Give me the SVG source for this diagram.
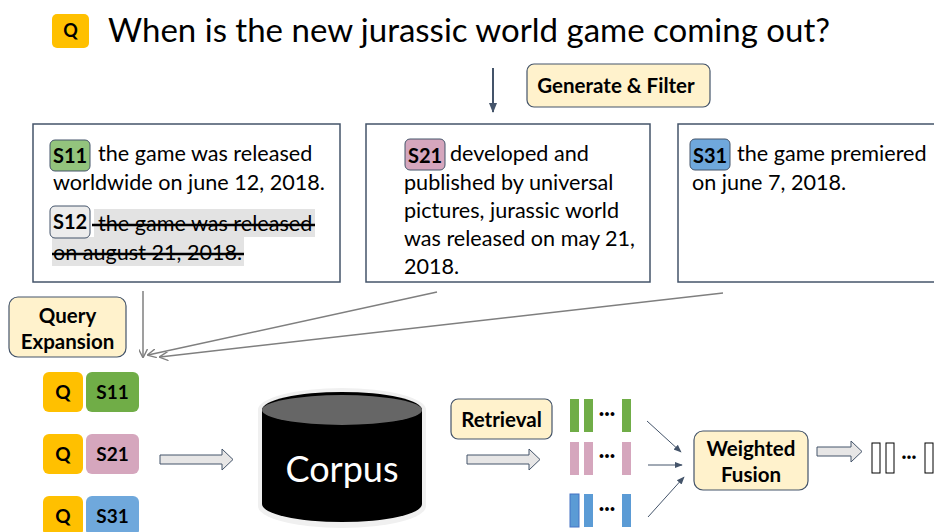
<svg xmlns="http://www.w3.org/2000/svg" width="934" height="532" viewBox="0 0 934 532">
<defs>
<style>
text{font-family:Lato,"Open Sans","Liberation Sans",sans-serif;fill:#000}
.t{font-size:21.6px}
.b{font-weight:bold}
.lb{font-weight:bold;font-size:20.5px}
.box{fill:#fff;stroke:#44546a;stroke-width:1.5}
.lab{fill:#fff2cc;stroke:#44546a;stroke-width:1.2}
.badge{stroke:#44546a;stroke-width:1}
.conn{stroke:#7f7f7f;stroke-width:1.5;fill:none}
.thin{stroke:#44546a;stroke-width:1;fill:none}
.barr{fill:#e7e6e6;stroke:#44546a;stroke-width:1}
</style>
<marker id="ag" viewBox="0 0 10 10" refX="9" refY="5" markerWidth="9" markerHeight="9" markerUnits="userSpaceOnUse" orient="auto"><path d="M0,0 L10,5 L0,10" fill="none" stroke="#7f7f7f" stroke-width="1.5"/></marker>
<marker id="ad" viewBox="0 0 10 10" refX="9" refY="5" markerWidth="10" markerHeight="10" markerUnits="userSpaceOnUse" orient="auto"><path d="M0,1 L10,5 L0,9 z" fill="#44546a"/></marker>
<marker id="at" viewBox="0 0 10 10" refX="9" refY="5" markerWidth="8" markerHeight="8" markerUnits="userSpaceOnUse" orient="auto"><path d="M0,1 L10,5 L0,9 z" fill="#44546a"/></marker>
</defs>
<rect width="934" height="532" fill="#fff"/>

<g id="question">
<rect x="52" y="14" width="37" height="34" rx="5" fill="#ffc000"/>
<text x="70.5" y="37" text-anchor="middle" class="b" font-size="18">Q</text>
<text x="108" y="42" font-size="33">When is the new jurassic world game coming out?</text>
</g>

<g id="generate-filter">
<rect x="527" y="64" width="183" height="43" rx="7" class="lab"/>
<text x="616" y="93" text-anchor="middle" class="lb">Generate &amp; Filter</text>
</g>

<g id="box1">
<rect x="33" y="124" width="307" height="158" class="box"/>
<rect x="50" y="140" width="40" height="31" rx="5" fill="#93c47d" class="badge"/>
<text x="70" y="163" text-anchor="middle" class="b" font-size="20">S11</text>
<text x="98" y="161" class="t">the game was released</text>
<text x="53" y="190" class="t">worldwide on june 12, 2018.</text>
<rect x="94" y="209" width="221" height="28" fill="#e3e3e3"/>
<rect x="52" y="237" width="192" height="29" fill="#e3e3e3"/>
<rect x="50" y="206" width="40" height="32" rx="5" fill="#ececec" class="badge"/>
<text x="70" y="229" text-anchor="middle" class="b" font-size="20">S12</text>
<text x="98" y="231" class="t">the game was released</text>
<text x="53" y="260" class="t">on august 21, 2018.</text>
<line x1="92" y1="225" x2="315" y2="225" stroke="#000" stroke-width="2.5"/>
<line x1="52" y1="254" x2="244" y2="254" stroke="#000" stroke-width="2.5"/>
</g>

<g id="box2">
<rect x="366" y="124" width="284" height="158" class="box"/>
<rect x="405" y="139" width="40" height="31" rx="5" fill="#d5a6bd" class="badge"/>
<text x="425" y="163" text-anchor="middle" class="b" font-size="20">S21</text>
<text x="450" y="161" class="t">developed and</text>
<text x="404" y="190" class="t">published by universal</text>
<text x="404" y="218" class="t">pictures, jurassic world</text>
<text x="404" y="246" class="t">was released on may 21,</text>
<text x="404" y="274" class="t">2018.</text>
</g>

<g id="box3">
<rect x="678" y="124" width="270" height="158" class="box"/>
<rect x="690" y="139" width="40" height="31" rx="5" fill="#6fa8dc" class="badge"/>
<text x="710" y="163" text-anchor="middle" class="b" font-size="20">S31</text>
<text x="737" y="161" class="t">the game premiered</text>
<text x="692" y="190" class="t">on june 7, 2018.</text>
</g>

<g id="query-expansion">
<rect x="9" y="297" width="117" height="60" rx="9" class="lab"/>
<text x="67.5" y="323" text-anchor="middle" class="lb">Query</text>
<text x="67.5" y="349" text-anchor="middle" class="lb">Expansion</text>
</g>

<g id="pair1">
<rect x="43" y="372" width="40" height="40" rx="6" fill="#ffc000"/>
<text x="63" y="399" text-anchor="middle" class="b" font-size="19">Q</text>
<rect x="86" y="372" width="53" height="40" rx="6" fill="#70ad47"/>
<text x="112.5" y="399" text-anchor="middle" class="b" font-size="19">S11</text>
</g>
<g id="pair2">
<rect x="43" y="434" width="40" height="40" rx="6" fill="#ffc000"/>
<text x="63" y="461" text-anchor="middle" class="b" font-size="19">Q</text>
<rect x="86" y="434" width="53" height="40" rx="6" fill="#d5a6bd"/>
<text x="112.5" y="461" text-anchor="middle" class="b" font-size="19">S21</text>
</g>
<g id="pair3">
<rect x="43" y="496" width="40" height="40" rx="6" fill="#ffc000"/>
<text x="63" y="523" text-anchor="middle" class="b" font-size="19">Q</text>
<rect x="86" y="496" width="53" height="40" rx="6" fill="#6fa8dc"/>
<text x="112.5" y="523" text-anchor="middle" class="b" font-size="19">S31</text>
</g>

<g id="corpus">
<path d="M258,410 A84,22 0 0 1 426,410 L426,506 A84,22 0 0 1 258,506 Z" fill="#f0f0f0"/>
<path d="M262,410 A80,18 0 0 1 422,410 L422,504 A80,18 0 0 1 262,504 Z" fill="#000"/>
<ellipse cx="342" cy="410" rx="80" ry="15" fill="#666"/>
<text x="342" y="482" text-anchor="middle" font-size="36" style="fill:#fff">Corpus</text>
</g>

<g id="retrieval">
<rect x="451" y="399" width="101" height="40" rx="7" class="lab"/>
<text x="501.5" y="427" text-anchor="middle" class="lb">Retrieval</text>
</g>

<g id="rank1">
<rect x="570" y="399" width="9" height="33" fill="#70ad47"/>
<rect x="584" y="399" width="9" height="33" fill="#70ad47"/>
<rect x="622" y="399" width="9" height="33" fill="#70ad47"/>
<text x="607" y="420" text-anchor="middle" class="b" font-size="20">···</text>
</g>
<g id="rank2">
<rect x="570" y="442" width="9" height="33" fill="#d5a6bd"/>
<rect x="584" y="442" width="9" height="33" fill="#d5a6bd"/>
<rect x="622" y="442" width="9" height="33" fill="#d5a6bd"/>
<text x="607" y="462" text-anchor="middle" class="b" font-size="20">···</text>
</g>
<g id="rank3">
<rect x="570" y="494" width="9" height="33" fill="#5b9bd5" stroke="#4472c4" stroke-width="1"/>
<rect x="584" y="494" width="9" height="33" fill="#5b9bd5"/>
<rect x="622" y="494" width="9" height="33" fill="#5b9bd5"/>
<text x="607" y="515" text-anchor="middle" class="b" font-size="20">···</text>
</g>

<g id="weighted-fusion">
<rect x="694" y="431" width="114" height="59" rx="9" class="lab"/>
<text x="751" y="456" text-anchor="middle" class="lb">Weighted</text>
<text x="751" y="482" text-anchor="middle" class="lb">Fusion</text>
</g>

<g id="output">
<rect x="872" y="443" width="8" height="30" fill="#fff" stroke="#000" stroke-width="1"/>
<rect x="886" y="443" width="8" height="30" fill="#fff" stroke="#000" stroke-width="1"/>
<rect x="925" y="443" width="8" height="30" fill="#fff" stroke="#000" stroke-width="1"/>
<text x="909" y="463" text-anchor="middle" class="b" font-size="18">···</text>
</g>

<g id="connectors">
<line x1="493" y1="68" x2="493" y2="112" stroke="#44546a" stroke-width="2" marker-end="url(#ad)"/>
<line x1="143" y1="291" x2="143" y2="357" class="conn" marker-end="url(#ag)"/>
<line x1="437" y1="292" x2="148" y2="355" class="conn" marker-end="url(#ag)"/>
<line x1="723" y1="293" x2="160" y2="357" class="conn" marker-end="url(#ag)"/>
<path d="M160,455 H222 V449 L233,459.5 L222,470 V464 H160 Z" class="barr"/>
<path d="M467,455 H529 V449 L540,459.5 L529,470 V464 H467 Z" class="barr"/>
<path d="M817,447 H851 V441 L862,451.5 L851,462 V456 H817 Z" class="barr"/>
<line x1="647" y1="421" x2="681" y2="452" class="thin" marker-end="url(#at)"/>
<line x1="648" y1="465" x2="682" y2="465" class="thin" marker-end="url(#at)"/>
<line x1="648" y1="517" x2="684" y2="477" class="thin" marker-end="url(#at)"/>
</g>
</svg>
